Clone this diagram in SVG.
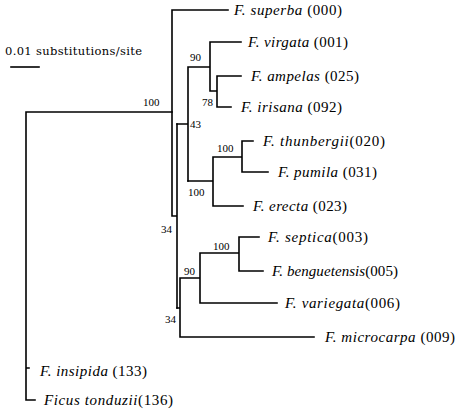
<svg xmlns="http://www.w3.org/2000/svg" width="460" height="410" viewBox="0 0 460 410">
<style>
.br{fill:none;stroke:#000;stroke-width:1.6;stroke-linecap:square}
.tx{font-size:15px;fill:#000}
.it{font-style:italic}
.bs{font-size:11px;fill:#000}
.sc{font-size:11.5px;fill:#000}
</style>
<rect width="460" height="410" fill="#fff"/>
<g id="connectors" class="br">
<path d="M26,112V400M26,112H172M26,368H29M26,400H35"/>
<path d="M172,10V216M172,10H228M172,216H177M177,124V308"/>
<path d="M177,124H188M188,67V181M188,67H210M210,42V91M210,42H241M210,91H217M217,76V107M217,76H241M217,107H231"/>
<path d="M188,181H213M213,157V206M213,157H242M242,141V172M242,141H253M242,172H268M213,206H243"/>
<path d="M177,308H180M180,278V337M180,278H200M200,253V303M200,253H239M239,237V271M239,237H259M239,271H263M200,303H277M180,337H314"/>
</g>
<g id="scale">
<text class="sc" font-family="DejaVu Serif, serif" x="5" y="55" textLength="137">0.01 substitutions/site</text>
<path class="br" d="M11,67H39"/>
</g>
<g id="support" class="bs" font-family="Liberation Serif, Times New Roman, DejaVu Serif, serif">
<text x="143" y="106">100</text>
<text x="190" y="61">90</text>
<text x="202" y="106">78</text>
<text x="190" y="128">43</text>
<text x="217" y="152">100</text>
<text x="188" y="196">100</text>
<text x="161" y="233">34</text>
<text x="213" y="250">100</text>
<text x="184" y="275">90</text>
<text x="165" y="323">34</text>
</g>
<g id="taxa" font-family="Liberation Serif, Times New Roman, DejaVu Serif, serif">
<g id="n000"><text class="tx" x="234" y="15" textLength="108"><tspan class="it">F. superba</tspan> (000)</text></g>
<g id="n001"><text class="tx" x="248" y="47" textLength="100"><tspan class="it">F. virgata</tspan> (001)</text></g>
<g id="n025"><text class="tx" x="251" y="81" textLength="108"><tspan class="it">F. ampelas</tspan> (025)</text></g>
<g id="n092"><text class="tx" x="241" y="112" textLength="101"><tspan class="it">F. irisana</tspan> (092)</text></g>
<g id="n020"><text class="tx" x="263" y="146" textLength="122"><tspan class="it">F. thunbergii</tspan>(020)</text></g>
<g id="n031"><text class="tx" x="278" y="177" textLength="99"><tspan class="it">F. pumila</tspan> (031)</text></g>
<g id="n023"><text class="tx" x="253" y="211" textLength="94"><tspan class="it">F. erecta</tspan> (023)</text></g>
<g id="n003"><text class="tx" x="268" y="242" textLength="100"><tspan class="it">F. septica</tspan>(003)</text></g>
<g id="n005"><text class="tx" x="272" y="276" textLength="126"><tspan class="it">F. benguetensis</tspan>(005)</text></g>
<g id="n006"><text class="tx" x="285" y="308" textLength="115"><tspan class="it">F. variegata</tspan>(006)</text></g>
<g id="n009"><text class="tx" x="325" y="342" textLength="130"><tspan class="it">F. microcarpa</tspan> (009)</text></g>
<g id="n133"><text class="tx" x="40" y="376" textLength="107"><tspan class="it">F. insipida</tspan> (133)</text></g>
<g id="n136"><text class="tx" x="44" y="405" textLength="129"><tspan class="it">Ficus tonduzii</tspan>(136)</text></g>
</g>
</svg>
